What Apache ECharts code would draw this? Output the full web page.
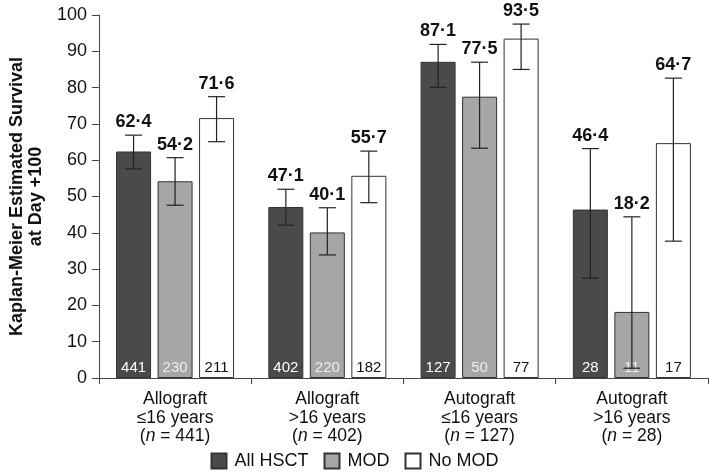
<!DOCTYPE html>
<html>
<head>
<meta charset="utf-8">
<script src="https://cdn.jsdelivr.net/npm/echarts@6/dist/echarts.min.js"></script>
<style>html,body{margin:0;padding:0;background:#fff}#c{width:709px;height:474px}</style>
</head>
<body>
<div id="c"></div>
<script>
const categories = ['Allograft|≤16 years|441', 'Allograft|>16 years|402', 'Autograft|≤16 years|127', 'Autograft|>16 years|28'];
const seriesNames = ['All HSCT', 'MOD', 'No MOD'];
const allValues = [62.4, 47.1, 87.1, 46.4];
const modValues = [54.2, 40.1, 77.5, 18.2];
const noModValues = [71.6, 55.7, 93.5, 64.7];
const allLower = [57.6, 42.1, 80.1, 27.5];
const allUpper = [66.9, 52.0, 91.9, 63.2];
const modLower = [47.6, 33.9, 63.3, 2.7];
const modUpper = [60.7, 46.9, 87.0, 44.4];
const noModLower = [65.1, 48.3, 85.0, 37.7];
const noModUpper = [77.5, 62.5, 97.5, 82.6];
const allCounts = [441, 402, 127, 28];
const modCounts = [230, 220, 50, 11];
const noModCounts = [211, 182, 77, 17];
const yTicks = [0, 10, 20, 30, 40, 50, 60, 70, 80, 90, 100];

const FONT = "'Liberation Sans', Arial, Helvetica, sans-serif";
const BAR_W = 35, GAP = 6.5;
const values = [allValues, modValues, noModValues];
const lowers = [allLower, modLower, noModLower];
const uppers = [allUpper, modUpper, noModUpper];
const counts = [allCounts, modCounts, noModCounts];
const fills = ['#4a4a4a', '#a6a6a6', '#ffffff'];
const countColors = ['#ffffff', '#eeeeee', '#111111'];

const fmt = v => v.toFixed(1).replace('.', '·');

const errData = [];
for (let s = 0; s < 3; s++) {
  for (let i = 0; i < categories.length; i++) {
    errData.push([i, lowers[s][i], uppers[s][i], values[s][i], s]);
  }
}

const barSeries = seriesNames.map((name, s) => ({
  name: name,
  type: 'bar',
  data: values[s],
  barWidth: BAR_W,
  barGap: (GAP / BAR_W * 100).toFixed(1) + '%',
  itemStyle: { color: fills[s], borderColor: '#333', borderWidth: 1 },
  label: {
    show: true,
    position: 'insideBottom',
    distance: 3,
    fontFamily: FONT,
    fontSize: 15,
    color: countColors[s],
    formatter: p => String(counts[s][p.dataIndex])
  },
  emphasis: { disabled: true },
  z: 2
}));

const errSeries = {
  type: 'custom',
  data: errData,
  z: 5,
  silent: true,
  renderItem: function (params, api) {
    const cat = api.value(0), lo = api.value(1), hi = api.value(2), v = api.value(3), s = api.value(4);
    const pHi = api.coord([cat, hi]);
    const pLo = api.coord([cat, lo]);
    const x = pHi[0] + (s - 1) * (BAR_W + GAP);
    const cw = 8.5;
    const st = { stroke: '#222', lineWidth: 1.2 };
    return {
      type: 'group',
      children: [
        { type: 'line', shape: { x1: x, y1: pHi[1], x2: x, y2: pLo[1] }, style: st },
        { type: 'line', shape: { x1: x - cw, y1: pHi[1], x2: x + cw, y2: pHi[1] }, style: st },
        { type: 'line', shape: { x1: x - cw, y1: pLo[1], x2: x + cw, y2: pLo[1] }, style: st },
        { type: 'text', style: { x: x, y: pHi[1] - 4, text: fmt(v), align: 'center', verticalAlign: 'bottom',
            font: 'bold 18px ' + FONT, fill: '#111' } }
      ]
    };
  }
};

const chart = echarts.init(document.getElementById('c'), null, { renderer: 'canvas' });
chart.setOption({
  animation: false,
  backgroundColor: '#fff',
  grid: { left: 82, right: 1, top: 15, bottom: 96, containLabel: false },
  legend: {
    data: seriesNames,
    bottom: -1,
    left: 'center',
    itemWidth: 15,
    itemHeight: 15,
    itemGap: 15,
    textStyle: { fontFamily: FONT, fontSize: 18, color: '#111', padding: [0, 0, 0, 3] },
    icon: 'rect'
  },
  xAxis: {
    type: 'category',
    data: categories,
    axisLine: { lineStyle: { color: '#444', width: 1 } },
    axisTick: { show: true, length: 6, lineStyle: { color: '#444' } },
    axisLabel: {
      margin: 12,
      interval: 0,
      fontFamily: FONT,
      fontSize: 17.5,
      color: '#111',
      lineHeight: 18.5,
      formatter: function (v) {
        const p = v.split('|');
        return p[0] + '\n' + p[1] + '\n(' + '{i|n} = ' + p[2] + ')';
      },
      rich: { i: { fontStyle: 'italic', fontFamily: FONT, fontSize: 17.5, color: '#111', lineHeight: 18.5 } }
    }
  },
  yAxis: {
    type: 'value',
    min: yTicks[0],
    max: yTicks[yTicks.length - 1],
    interval: 10,
    name: 'Kaplan-Meier Estimated Survival\nat Day +100',
    nameLocation: 'middle',
    nameGap: 36,
    nameRotate: 90,
    nameTextStyle: { fontFamily: FONT, fontSize: 18, fontWeight: 'bold', color: '#111', lineHeight: 19 },
    axisLine: { show: true, lineStyle: { color: '#444', width: 1 } },
    axisTick: { show: true, length: 7, lineStyle: { color: '#444' } },
    axisLabel: { margin: 12, fontFamily: FONT, fontSize: 18, color: '#111' },
    splitLine: { show: false }
  },
  series: barSeries.concat([errSeries])
});
</script>
</body>
</html>
